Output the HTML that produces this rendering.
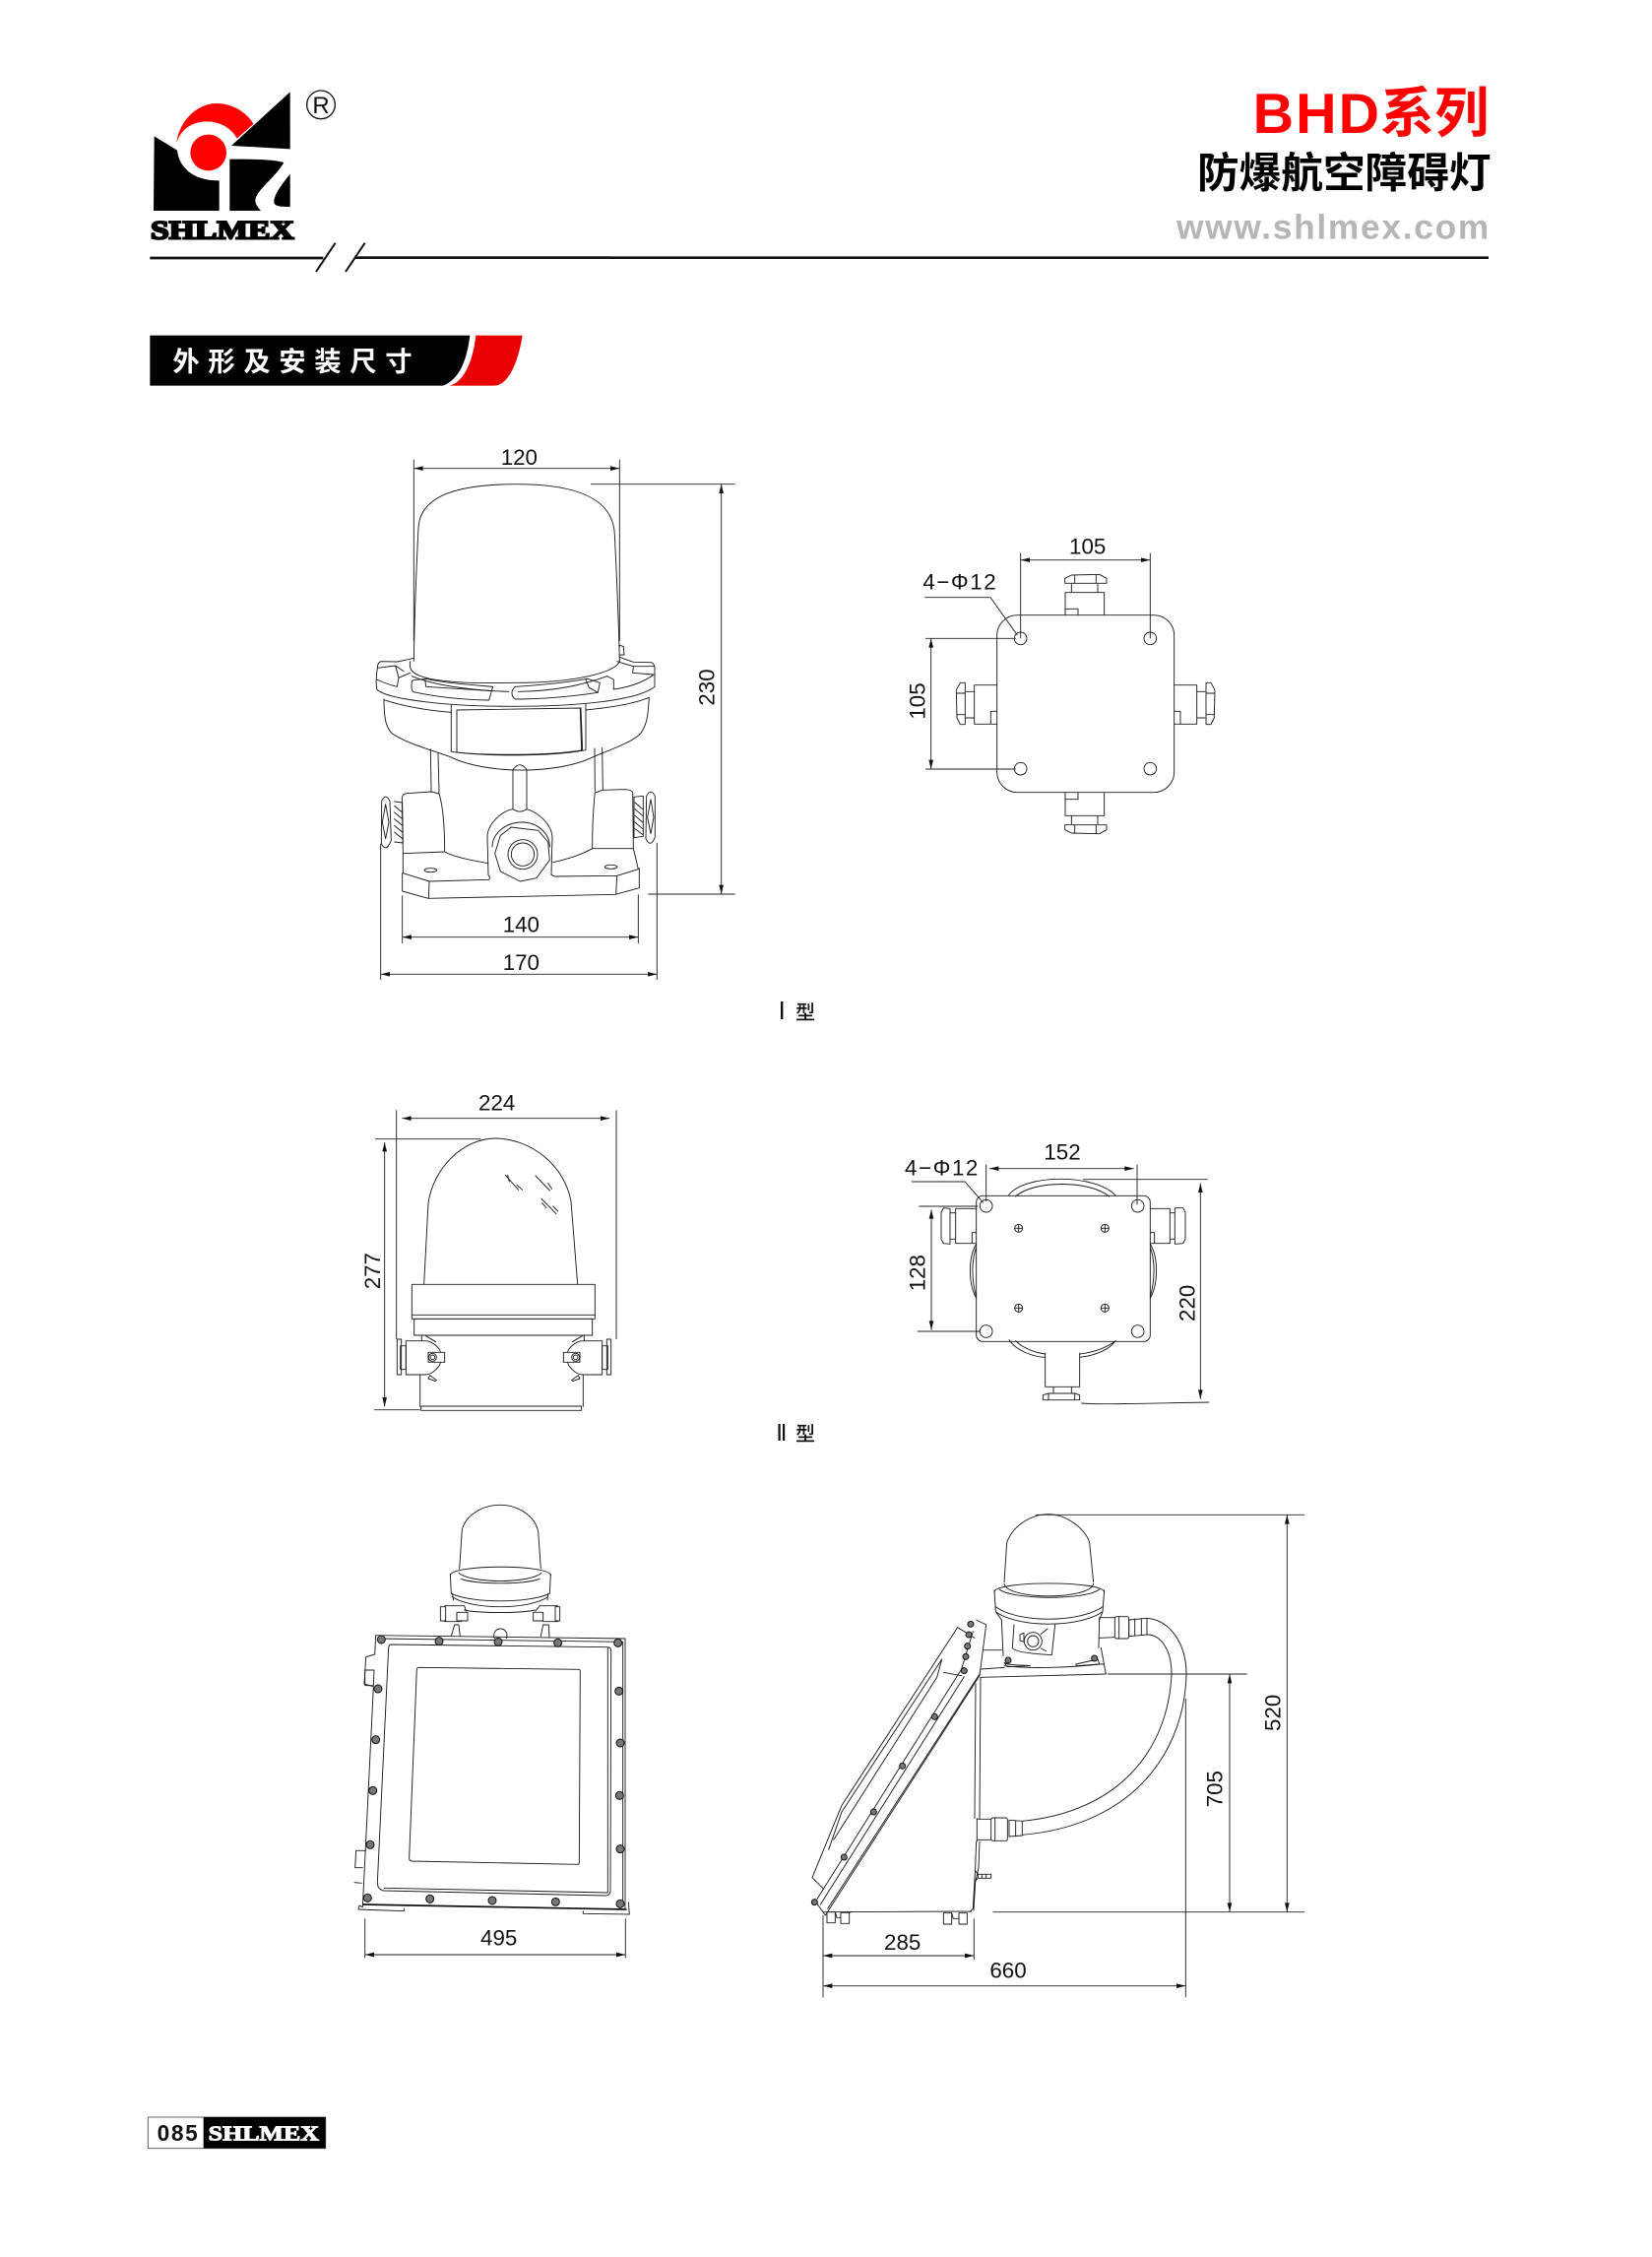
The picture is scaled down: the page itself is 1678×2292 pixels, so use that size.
<!DOCTYPE html>
<html lang="zh"><head><meta charset="utf-8"><title>BHD系列 防爆航空障碍灯</title>
<style>
html,body{margin:0;padding:0;background:#fff}
svg{display:block}
.s{fill:none;stroke:#1c1c1c;stroke-width:2.8;stroke-linejoin:round;stroke-linecap:round}
.d{fill:none;stroke:#222;stroke-width:2.8}
.a{marker-start:url(#ar);marker-end:url(#ar)}
.t{font-family:"Liberation Sans",Arial,sans-serif;font-size:67px;fill:#111;text-anchor:middle}
.b{fill:#777;stroke:#111;stroke-width:3}
.c{font-family:"Liberation Sans","Noto Sans CJK SC",sans-serif}
.lg{font-family:"Liberation Serif",serif;font-weight:700}
</style></head><body>
<svg xmlns="http://www.w3.org/2000/svg" width="1678" height="2292" viewBox="0 0 1678 2292">
<defs>
<marker id="ar" markerUnits="userSpaceOnUse" markerWidth="34" markerHeight="20" refX="30" refY="10" orient="auto-start-reverse"><path d="M2,3 L30,10 L2,17 Z" fill="#111"/></marker>
<g id="gl" class="s">
<path d="M546,284 L546,215 L665,215 L665,284 M546,265 L585,265 L585,284 M565,190 L565,215 M645,190 L645,215 M545,187 L545,172 L565,162 L650,160 L672,172 L672,187 Z M575,162 L575,187 M640,162 L640,187"/>
</g>
</defs>
<rect width="1678" height="2292" fill="#fff"/>

<!-- logo + header -->
<g transform="translate(120,60) scale(.33333)">
<path d="M110,235 L180,278 C185,330 230,372 308,370 L308,462 L108,462 Z" fill="#000"/>
<path d="M524,100 L524,274 L345,264 Z" fill="#000"/>
<path d="M340,305 C400,305 470,305 505,315 C480,360 420,400 418,430 C418,445 430,455 435,462 L340,462 Z" fill="#000"/>
<path d="M524,350 L524,450 C500,450 475,450 475,435 C475,410 505,375 524,350 Z" fill="#000"/>
<path d="M178,255 C185,190 240,135 300,135 C350,135 395,165 412,198 L362,242 C345,210 310,190 270,190 C225,190 190,215 178,255 Z" fill="#f00"/>
<circle cx="275" cy="285" r="55" fill="#f00"/>
<circle cx="618" cy="139" r="43" fill="none" stroke="#111" stroke-width="4"/>
<text x="618" y="165" font-family="Liberation Sans,sans-serif" font-size="72" text-anchor="middle" fill="#111">R</text>
<text class="lg" x="99" y="548" font-size="80" textLength="437" lengthAdjust="spacingAndGlyphs" fill="#000" stroke="#000" stroke-width="6">SHLMEX</text>
<path d="M97,606 L625,606 M735,605 L1500,605" stroke="#111" stroke-width="8" fill="none"/>
<path d="M603,648 L662,560 M693,648 L752,560" stroke="#111" stroke-width="6" fill="none"/>
<path d="M97,842 L1072,842 C1062,920 1040,975 990,995 L97,995 Z" fill="#000"/>
<path d="M1090,842 L1232,842 C1220,920 1190,995 1145,995 L1010,995 C1050,985 1080,930 1090,842 Z" fill="#e60000"/>
<text class="c" x="166" y="950" font-size="82" font-weight="700" fill="#fff" letter-spacing="26">外形及安装尺寸</text>
</g>
<line x1="360" y1="261.7" x2="1512" y2="261.7" stroke="#111" stroke-width="2.6"/>
<g transform="translate(1150,60) scale(.33333)">
<text x="368" y="225" font-family="Liberation Sans,sans-serif" font-weight="700" font-size="172" fill="#f00" textLength="385" lengthAdjust="spacing">BHD</text>
<text class="c" x="755" y="222" font-size="166" font-weight="700" fill="#f00">系列</text>
<text class="c" x="198" y="392" font-size="128" font-weight="700" fill="#000">防爆航空障碍灯</text>
<text x="135" y="548" font-family="Liberation Sans,sans-serif" font-weight="700" font-size="106" fill="#b6b6b6" textLength="952" lengthAdjust="spacing">www.shlmex.com</text>
</g>

<!-- Type I front: dome + dimensions -->
<g transform="translate(360,440) scale(.33333)">
<path class="s" d="M181,694 C183,555 190,388 195,288 C200,188 320,155 495,155 C680,155 790,200 793,310 C800,444 805,577 808,694"/>
<path class="d" d="M181,80 L181,633 M808,80 L808,633 M720,155 L1160,155 M895,1404 L1160,1404 M146,1408 L146,1554 M865,1405 L865,1554 M80,1250 L80,1665 M922,1248 L922,1665"/>
<line class="d a" x1="181" y1="107" x2="808" y2="107"/>
<line class="d a" x1="1118" y1="155" x2="1118" y2="1404"/>
<line class="d a" x1="146" y1="1535" x2="865" y2="1535"/>
<line class="d a" x1="80" y1="1648" x2="922" y2="1648"/>
<text class="t" x="502" y="96">120</text><text class="t" x="508" y="1520">140</text><text class="t" x="508" y="1635">170</text>
<text class="t" transform="translate(1097,774) rotate(-90)">230</text>
</g>
<!-- Type I front: lower body -->
<g transform="translate(360,640) scale(.33333)">
<path class="s" d="M181,85 C170,88 150,92 130,96 L80,95 Q70,100 70,115 C66,140 66,165 68,180 C100,212 290,232 480,232 C680,232 860,215 915,172 L915,112 Q912,100 905,98 L850,97 L808,82"/>
<path class="s" d="M90,210 C90,280 100,300 115,315 C160,345 235,365 290,385 C400,440 620,440 730,385 C790,360 860,335 875,310 C895,280 895,245 898,205"/>
<path class="s" d="M90,212 C160,235 230,245 295,250 M705,243 C780,235 850,225 898,205"/>
<path class="s" d="M295,228 L295,370 C400,385 600,385 705,365 L705,225 M312,243 L690,237 L695,365 M312,243 L312,372 M312,372 C400,382 600,382 695,365 M688,240 L692,365"/>
<path class="s" d="M170,95 C165,120 175,135 230,148 C330,165 400,160 495,160 C660,160 808,130 808,90"/>
<path class="s" d="M175,140 C260,175 400,185 470,187 M500,187 C620,185 700,165 770,140"/>
<path class="s" d="M175,155 Q172,185 180,188 C260,205 340,212 410,213 L422,172 C340,165 270,160 218,148 L180,152 Z M215,148 L218,172 L420,185"/>
<path class="s" d="M490,172 C475,185 478,200 490,210 C570,210 660,202 742,190 L748,160 L710,148 C640,160 560,168 490,172 Z M705,150 L715,175 L742,190"/>
<path class="s" d="M70,115 L125,108 L135,145 L130,172 Q100,165 68,150 M125,108 L150,125 M135,145 L170,130"/>
<path class="s" d="M915,110 L850,110 L848,130 L912,135 M790,180 L790,150 L770,140 M850,110 L800,95 M790,180 C830,175 880,160 912,135 M808,50 L808,45 L820,50 L822,75 L810,75"/>
<path class="s" d="M232,362 L234,490 M255,375 L258,498 M732,360 L733,490 M755,358 L757,488"/>
<path class="s" d="M483,545 L483,425 Q504,395 525,425 L525,545 Q504,560 483,545"/>
<path class="s" d="M148,680 L145,510 Q147,498 160,497 L235,492 L258,498 C268,530 275,590 275,675 L148,680 M850,665 L848,495 Q845,485 820,485 L757,487 L733,495 C728,540 725,610 725,665 L850,665"/>
<path class="s" d="M275,675 C300,690 360,702 408,710 M725,665 C690,685 640,700 605,707"/>
<path class="s" d="M408,745 L405,630 C405,590 450,550 483,545 M525,545 C560,555 600,590 603,630 L600,745 M420,660 C420,620 460,585 510,585 C560,585 595,620 595,660"/>
<path class="s" d="M445,625 L478,600 L560,610 L590,645 L595,700 L555,755 L505,765 L445,735 L428,680 Z"/>
<circle class="s" cx="513" cy="683" r="45"/><circle class="s" cx="513" cy="683" r="35"/>
<path class="s" d="M148,680 L148,740 L228,765 L410,760 Q415,755 408,745 M600,745 Q605,748 610,750 L800,748 L865,728 L850,665 M146,740 L146,795 L225,817 L795,805 L868,785 L868,725 M228,765 L226,817 M800,748 L797,805"/>
<ellipse class="s" cx="232" cy="731" rx="19" ry="6"/><ellipse class="s" cx="782" cy="721" rx="19" ry="6"/>
<path class="s" d="M83,520 Q95,495 108,520 L112,640 Q97,680 82,650 Z M95,530 L85,585 L95,635 L105,585 Z M122,522 L146,525 L148,648 L122,645"/>
<path class="s" d="M122,535 L146,555 M122,555 L146,575 M122,575 L146,595 M122,595 L146,615 M122,615 L146,635"/>
<path class="s" d="M890,505 Q903,480 916,505 L916,630 Q903,665 888,635 Z M903,515 L893,570 L903,620 L912,570 Z M852,508 L880,505 L880,628 L852,632 Z"/>
<path class="s" d="M855,525 L878,545 M855,545 L878,565 M855,565 L878,585 M855,585 L878,605 M855,605 L878,622"/>
</g>

<!-- Type I top -->
<g transform="translate(900,530) scale(.33333)">
<rect class="s" x="338" y="284" width="540" height="540" rx="62"/>
<circle class="s" cx="410" cy="355" r="19"/><circle class="s" cx="805" cy="355" r="19"/><circle class="s" cx="410" cy="752" r="19"/><circle class="s" cx="805" cy="752" r="19"/>
<use href="#gl"/><use href="#gl" transform="translate(0,1110) scale(1,-1)"/>
<use href="#gl" transform="rotate(-90 608 554)"/><use href="#gl" transform="translate(1216,0) scale(-1,1) rotate(-90 608 554)"/>
<path class="d" d="M410,95 L410,355 M805,95 L805,355 M118,230 L318,230 L400,345 M120,355 L395,355 M120,753 L395,753"/>
<line class="d a" x1="410" y1="116" x2="805" y2="116"/>
<line class="d a" x1="137" y1="355" x2="137" y2="753"/>
<text class="t" x="614" y="98">105</text>
<text class="t" transform="translate(119,546) rotate(-90)">105</text>
<text class="t" x="112" y="206" style="text-anchor:start" textLength="223" lengthAdjust="spacing">4−Φ12</text>
</g>
<g class="c" fill="#111">
<rect x="793" y="1017" width="2.4" height="18"/>
<text x="808" y="1035" font-size="20" font-weight="500">型</text>
<rect x="790.5" y="1446" width="2.2" height="17"/><rect x="795" y="1446" width="2.2" height="17"/>
<text x="808" y="1463" font-size="20" font-weight="500">型</text>
</g>

<!-- Type II side -->
<g transform="translate(360,1100) scale(.33333)">
<path class="s" d="M212,612 L225,365 C240,260 330,168 430,168 C540,170 640,250 660,360 L680,612"/>
<rect class="s" x="175" y="613" width="558" height="105"/><line class="s" x1="175" y1="706" x2="733" y2="706"/>
<rect class="s" x="182" y="718" width="543" height="50"/>
<path class="s" d="M200,888 L200,985 M697,888 L697,985"/><rect class="s" x="203" y="984" width="489" height="13"/>
<path class="s" d="M205,768 L205,785 M700,768 L700,785"/>
<g id="g2a" class="s">
<path d="M157,785 L215,785 C240,785 262,810 262,820 M157,888 L215,888 C240,888 262,860 262,850 M157,785 L157,888"/>
<rect x="225" y="820" width="50" height="30"/><circle cx="238" cy="835" r="12"/><circle cx="238" cy="835" r="7"/>
<rect x="140" y="800" width="17" height="72"/><rect x="130" y="780" width="13" height="108"/>
<path d="M218,770 L248,788 M250,905 L230,890 L225,900 L248,908"/>
</g>
<use href="#g2a" transform="translate(912,0) scale(-1,1)"/>
<path class="s" stroke-width="2" d="M460,280 L500,325 M467,280 L472,300 M495,310 L512,325 M552,282 L595,327 M590,305 L602,322 M570,352 L615,398 M572,365 L585,380 M605,375 L620,390"/>
<path class="d" d="M128,82 L128,780 M798,82 L798,780 M63,170 L385,170 M60,995 L200,995"/>
<line class="d a" x1="145" y1="107" x2="778" y2="107"/>
<line class="d a" x1="92" y1="180" x2="92" y2="985"/>
<text class="t" x="434" y="83">224</text>
<text class="t" transform="translate(78,572) rotate(-90)">277</text>
</g>

<!-- Type II top -->
<g transform="translate(900,1150) scale(.33333)">
<rect class="s" x="275" y="193" width="530" height="444" rx="20"/>
<circle class="s" cx="305" cy="224" r="19"/><circle class="s" cx="767" cy="224" r="19"/><circle class="s" cx="305" cy="606" r="19"/><circle class="s" cx="767" cy="606" r="19"/>
<g class="s"><circle cx="404" cy="292" r="12"/><path d="M392,292 L416,292 M404,280 L404,304"/><circle cx="667" cy="292" r="12"/><path d="M655,292 L679,292 M667,280 L667,304"/><circle cx="404" cy="535" r="12"/><path d="M392,535 L416,535 M404,523 L404,547"/><circle cx="667" cy="535" r="12"/><path d="M655,535 L679,535 M667,523 L667,547"/></g>
<path class="s" d="M372,193 C420,125 640,125 700,193 M395,195 C450,145 620,145 680,195 M275,340 C250,380 250,460 275,505 M275,350 C260,390 260,450 275,500 M805,340 C830,380 830,460 805,505 M805,350 C820,390 820,450 805,500 M375,632 C400,670 460,685 485,685 M395,635 C420,660 460,672 485,675 M590,675 C640,670 680,650 700,635 M590,685 C640,680 680,660 695,640"/>
<path class="s" d="M485,672 L485,775 L590,775 L590,672 M510,775 L510,795 M565,775 L565,795 M478,800 L478,815 L590,815 L590,800 L575,795 L495,795 Z M495,795 L495,815 M575,795 L575,815"/>
<path class="s" d="M275,232 L212,232 L212,338 L275,338 M262,305 L275,305 M262,305 L262,338 M195,245 L212,245 M195,325 L212,325 M195,232 L195,340 L175,338 L168,325 L168,243 L175,230 Z"/>
<path class="s" d="M805,232 L865,232 L865,338 L805,338 M818,305 L805,305 M818,305 L818,338 M865,245 L880,245 M865,325 L880,325 M880,230 L880,340 L905,338 L912,325 L912,243 L905,230 Z"/>
<path class="d" d="M305,98 L305,210 M765,98 L765,220 M78,150 L240,150 L296,214 M100,225 L280,225 M95,606 L285,606 M600,143 L980,143 M595,825 C640,830 800,825 985,822"/>
<line class="d a" x1="315" y1="110" x2="755" y2="110"/>
<line class="d a" x1="138" y1="235" x2="138" y2="602"/>
<line class="d a" x1="958" y1="155" x2="958" y2="812"/>
<text class="t" x="537" y="82">152</text>
<text class="t" transform="translate(119,428) rotate(-90)">128</text>
<text class="t" transform="translate(941,520) rotate(-90)">220</text>
<text class="t" x="57" y="131" style="text-anchor:start" textLength="223" lengthAdjust="spacing">4−Φ12</text>
</g>

<!-- Box front -->
<g transform="translate(340,1510) scale(.33333)">
<path class="s" d="M380,250 L388,130 C400,85 450,55 505,55 C560,55 610,90 620,135 L628,248"/>
<path class="s" d="M352,270 C352,235 660,235 658,270 M378,262 C420,295 590,295 630,262 M385,280 C430,298 580,298 625,280"/>
<path class="s" d="M352,265 L355,325 C420,355 590,355 655,325 L658,265 M358,335 C420,375 590,375 650,335 M358,325 L362,345 M650,325 L648,345"/>
<path class="s" d="M335,362 L395,362 L400,378 M335,410 L385,410 M322,365 L338,365 L338,408 L322,408 Z M372,382 L405,382 L405,408 L372,408 Z M395,375 C440,385 570,385 610,375"/>
<path class="s" d="M680,362 L625,362 L612,378 M680,410 L635,410 M672,365 L686,365 L686,408 L672,408 Z M605,382 L635,382 L635,408 L605,408 Z"/>
<path class="s" d="M355,455 L365,420 L378,420 L382,455 M628,455 L635,420 L652,420 L654,458"/>
<circle class="s" cx="505" cy="452" r="20"/>
<path fill="#fff" stroke="none" d="M470,462 L540,462 L540,480 L470,480 Z"/>
<path class="s" d="M125,452 L885,462 L885,1285 M125,452 L122,510 L95,518 L90,600 L118,608 L85,1280 L75,1275 L72,1287 L212,1292 L212,1285 M130,462 L878,472 L878,1278"/>
<path class="s" d="M92,558 L120,558 L118,605 L92,605 Z M95,1108 L65,1108 L62,1160 L85,1160 M60,1205 L82,1207"/>
<path class="s" d="M172,480 L832,488 Q842,488 842,500 L840,1232 Q838,1245 825,1245 L148,1230 Q130,1225 130,1205 L164,490 Q165,480 172,480 Z M832,490 L832,1236 L150,1222"/>
<path class="s" d="M258,550 L745,556 Q748,557 748,562 L745,1145 Q745,1150 740,1150 L235,1140 Q226,1138 227,1130 L250,556 Q250,550 258,550 Z"/>
<path d="M85,1272 L890,1287" stroke="#111" stroke-width="5" fill="none"/>
<path class="s" d="M757,1292 L757,1300 L898,1302 L895,1265"/>
<g class="b"><circle cx="142" cy="465" r="12"/><circle cx="318" cy="470" r="12"/><circle cx="498" cy="472" r="12"/><circle cx="680" cy="475" r="12"/><circle cx="863" cy="475" r="12"/><circle cx="132" cy="615" r="12"/><circle cx="125" cy="770" r="12"/><circle cx="116" cy="925" r="12"/><circle cx="108" cy="1090" r="12"/><circle cx="100" cy="1252" r="12"/><circle cx="290" cy="1255" r="12"/><circle cx="480" cy="1260" r="12"/><circle cx="673" cy="1264" r="12"/><circle cx="870" cy="1270" r="12"/><circle cx="866" cy="622" r="12"/><circle cx="870" cy="780" r="12"/><circle cx="868" cy="940" r="12"/><circle cx="870" cy="1103" r="12"/></g>
<path class="d" d="M92,1315 L92,1435 M886,1315 L886,1435"/>
<line class="d a" x1="92" y1="1425" x2="886" y2="1425"/>
<text class="t" x="500" y="1397">495</text>
</g>

<!-- Box side -->
<g transform="translate(820,1510) scale(.33333)">
<path class="s" d="M600,290 L608,170 C625,120 680,83 735,83 C790,83 850,130 860,170 L872,290"/>
<path class="s" d="M570,320 C572,285 900,285 905,320 M600,295 C610,345 860,345 872,295 M585,312 C630,345 850,345 890,312"/>
<path class="s" d="M570,315 L574,380 C640,430 830,430 900,380 L905,315 M574,365 C640,415 830,415 900,365 M574,380 L592,405 M900,380 L890,405"/>
<path class="s" d="M592,405 L597,515 M890,400 L888,490 M600,545 C680,555 810,550 890,540"/>
<path class="s" d="M630,420 L625,490 Q628,505 745,512 L755,420"/>
<circle class="s" cx="688" cy="470" r="27"/><circle class="s" cx="688" cy="470" r="17"/>
<path class="s" d="M648,450 L660,445 L660,472 L648,468 Z M712,448 L732,432 M712,492 L728,500"/>
<path class="s" d="M537,497 L592,497 M530,555 L600,550 M530,580 L910,570 L895,490 M888,540 L905,540"/>
<path class="s" d="M600,535 C610,545 660,542 680,545 L610,548 Z M818,540 L885,525 L890,540 L820,545 Z"/>
<circle class="b" cx="612" cy="528" r="9"/><circle class="b" cx="875" cy="522" r="9"/>
<path class="s" d="M890,398 L937,398 M890,460 L937,458"/>
<rect class="s" x="937" y="395" width="43" height="67" rx="6"/>
<path class="s" d="M950,395 L950,462 M980,405 L1035,400 L1035,450 L980,455 Z M998,402 L998,452 M1018,400 L1018,450"/>
<path class="s" d="M1035,400 C1100,405 1155,470 1155,570 C1150,800 1000,1030 655,1060"/>
<path class="s" d="M1035,450 C1080,450 1110,500 1110,570 C1100,800 950,990 655,1018"/>
<rect class="s" x="560" y="1008" width="50" height="70" rx="6"/>
<path class="s" d="M572,1008 L572,1078 M615,1015 L655,1018 L655,1062 L615,1065 Z M635,1016 L635,1064 M517,1012 L560,1012 M517,1075 L560,1075 M517,1010 L517,1080"/>
<path class="s" d="M528,580 L525,1010 M513,600 L510,1010 M515,1080 L512,1160 L505,1285 L495,1295 M525,1080 L522,1160 L512,1205 L507,1290 M50,1295 L500,1293"/>
<path class="s" d="M515,405 L545,420 L525,575 L55,1305 L30,1270"/>
<path class="s" d="M505,440 L470,555 L30,1255 M478,578 L40,1272 M525,570 L62,1285"/>
<path class="s" d="M458,428 L510,460 M458,428 L105,970 L15,1190 L50,1225"/>
<path class="s" d="M410,525 L105,990 L65,1105 M410,525 L395,580 L80,1075 M415,565 L470,575"/>
<g class="s"><rect x="60" y="1295" width="25" height="33"/><rect x="102" y="1297" width="26" height="33"/><rect x="415" y="1298" width="25" height="34"/><rect x="462" y="1298" width="25" height="34"/><path d="M85,1295 L90,1312 L102,1312 M128,1297 L135,1295 M440,1298 L445,1315 L462,1315"/></g>
<path class="s" d="M512,1170 L520,1178 L520,1192 L512,1200 M520,1180 L560,1180 L560,1192 L520,1192 M532,1180 L532,1192 M545,1180 L545,1192"/>
<g class="b"><circle cx="498" cy="418" r="9"/><circle cx="492" cy="450" r="9"/><circle cx="488" cy="485" r="9"/><circle cx="483" cy="517" r="9"/><circle cx="478" cy="560" r="9"/><circle cx="388" cy="700" r="9"/><circle cx="290" cy="850" r="9"/><circle cx="202" cy="990" r="9"/><circle cx="112" cy="1128" r="9"/><circle cx="22" cy="1265" r="9"/></g>
<path class="d" d="M695,85 L1515,85 M915,570 L1340,570 M565,1295 L1515,1295 M48,1305 L48,1555 M508,1315 L508,1440 M1153,645 L1153,1555"/>
<line class="d a" x1="1462" y1="85" x2="1462" y2="1295"/>
<line class="d a" x1="1287" y1="570" x2="1287" y2="1295"/>
<line class="d a" x1="48" y1="1428" x2="508" y2="1428"/>
<line class="d a" x1="48" y1="1520" x2="1153" y2="1520"/>
<text class="t" x="290" y="1410">285</text><text class="t" x="612" y="1495">660</text>
<text class="t" transform="translate(1441,688) rotate(-90)">520</text>
<text class="t" transform="translate(1265,920) rotate(-90)">705</text>
</g>

<!-- footer -->
<g transform="translate(140,2130) scale(.33333)">
<rect x="31" y="60" width="541" height="95" fill="#fff" stroke="#5a6a5a" stroke-width="3"/>
<rect x="200" y="60" width="372" height="95" fill="#000"/>
<text x="123" y="132" font-family="Liberation Sans,sans-serif" font-weight="700" font-size="68" letter-spacing="5" text-anchor="middle" fill="#111">085</text>
<text class="lg" x="215" y="130" font-size="64" textLength="337" lengthAdjust="spacingAndGlyphs" fill="#fff" stroke="#fff" stroke-width="3">SHLMEX</text>
</g>
</svg>
</body></html>
